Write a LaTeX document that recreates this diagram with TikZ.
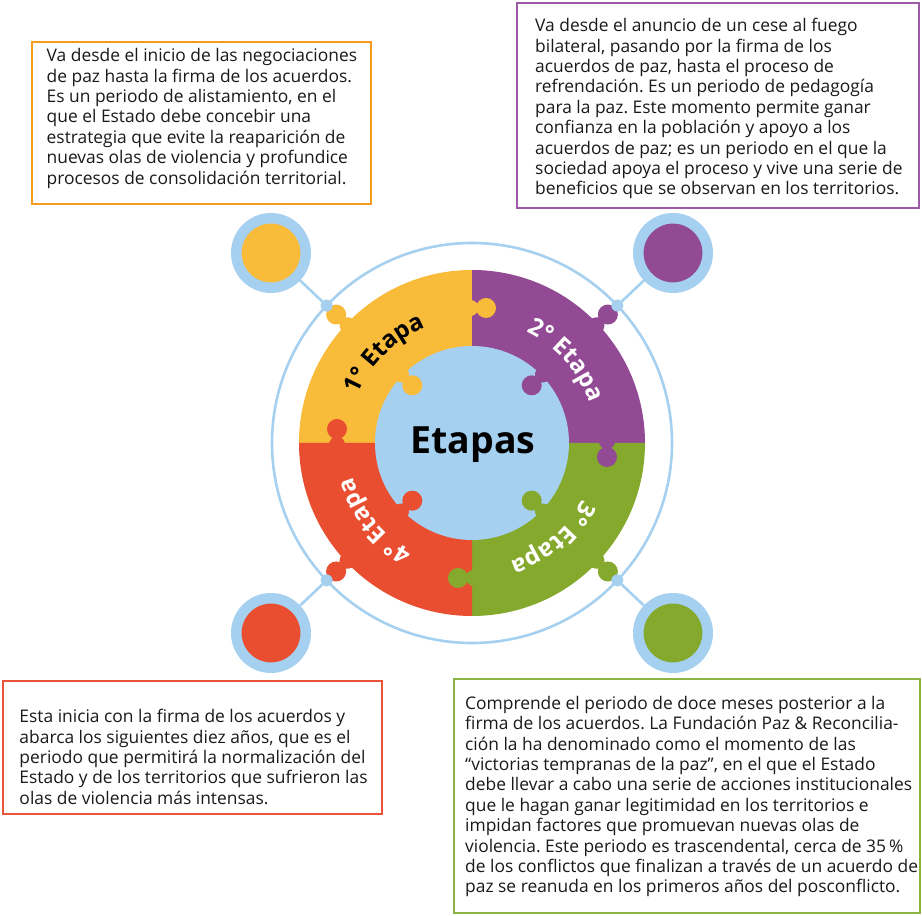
\documentclass[tikz,border=0pt]{standalone}
\usepackage{fontspec}
\setmainfont{Open Sans}
\usetikzlibrary{calc,decorations.text}
\definecolor{cyel}{HTML}{F8BB3A}
\definecolor{cpur}{HTML}{924A94}
\definecolor{cgrn}{HTML}{84A92C}
\definecolor{cred}{HTML}{E94E31}
\definecolor{clblue}{HTML}{A6D0EF}
\definecolor{borange}{HTML}{F59B1F}
\definecolor{bpurple}{HTML}{9C5AA7}
\definecolor{bred}{HTML}{E8553B}
\definecolor{bgreen}{HTML}{8DB443}
\definecolor{ctext}{HTML}{1A1A1A}
\newcommand\boxpar[1]{\parbox[t]{600pt}{\raggedright\frenchspacing\fontsize{17.4}{20.4}\selectfont #1}}
\newcommand\lblfont{\fontsize{24}{24}\selectfont\bfseries}
\newcommand\puzknob[4]{\begin{scope}[shift={(C)},rotate=#2,shift={(#3)},rotate=#4]
\fill[#1] (-1,-8) -- (0,-8) .. controls (3,-7.5) and (4,-5) .. (5,-4.5) -- (8,-4.5) -- (8,4.5) -- (5,4.5) .. controls (4,5) and (3,7.5) .. (0,8) -- (-1,8) -- cycle (14,0) circle[radius=10];
\end{scope}}
\tikzset{
  boxframe/.style={line width=2},
  boxtext/.style={anchor=base west, inner sep=0, text=ctext},
  corner/.style={circle, draw=clblue, line width=10.5, minimum size=69.5, inner sep=0},
  ringdot/.style={circle, fill=clblue, minimum size=12, inner sep=0},
  conn/.style={draw=clblue, line width=2.6},
}
\begin{document}
\begin{tikzpicture}[x=1pt,y=1pt]
\useasboundingbox (0,0) rectangle (922,916);
\fill[white] (0,0) rectangle (922,916);
\coordinate (C) at (472,473);

% text boxes
\draw[boxframe, borange] (32,712) rectangle (371,874);
\draw[boxframe, bpurple] (517,708) rectangle (919,913);
\draw[boxframe, bred] (3,102) rectangle (382,235);
\draw[boxframe, bgreen] (454,3) rectangle (920,237);

\node[boxtext] (t1) at (46.5,854.3) {\boxpar{Va desde el inicio de las negociaciones\\
de paz hasta la firma de los acuerdos.\\
Es un periodo de alistamiento, en el\\
que el Estado debe concebir una\\
estrategia que evite la reaparición de\\
nuevas olas de violencia y profundice\\
procesos de consolidación territorial.}};

\node[boxtext] (t2) at (535,884.3) {\boxpar{Va desde el anuncio de un cese al fuego\\
bilateral, pasando por la firma de los\\
acuerdos de paz, hasta el proceso de\\
refrendación. Es un periodo de pedagogía\\
para la paz. Este momento permite ganar\\
confianza en la población y apoyo a los\\
acuerdos de paz; es un periodo en el que la\\
sociedad apoya el proceso y vive una serie de\\
beneficios que se observan en los territorios.}};

\node[boxtext] (t4) at (19.3,193.3) {\boxpar{Esta inicia con la firma de los acuerdos y\\
abarca los siguientes diez años, que es el\\
periodo que permitirá la normalización del\\
Estado y de los territorios que sufrieron las\\
olas de violencia más intensas.}};

\node[boxtext] (t3) at (465,206.7) {\boxpar{Comprende el periodo de doce meses posterior a la\\
firma de los acuerdos. La Fundación Paz \& Reconcilia-\\
ción la ha denominado como el momento de las\\
“victorias tempranas de la paz”, en el que el Estado\\
debe llevar a cabo una serie de acciones institucionales\\
que le hagan ganar legitimidad en los territorios e\\
impidan factores que promuevan nuevas olas de\\
violencia. Este periodo es trascendental, cerca de 35\,\%\\
de los conflictos que finalizan a través de un acuerdo de\\
paz se reanuda en los primeros años del posconflicto.}};

% puzzle quadrants
\fill[cyel] (C) -- ++(90:173) arc[start angle=90,end angle=180,radius=173] -- cycle;
\fill[cpur] (C) -- ++(0:173) arc[start angle=0,end angle=90,radius=173] -- cycle;
\fill[cgrn] (C) -- ++(270:173) arc[start angle=270,end angle=360,radius=173] -- cycle;
\fill[cred] (C) -- ++(180:173) arc[start angle=180,end angle=270,radius=173] -- cycle;

% side tabs
\puzknob{cyel}{0}{0,135}{0}
\puzknob{cpur}{0}{135,0}{-90}
\puzknob{cgrn}{0}{0,-135}{180}
\puzknob{cred}{0}{-135,0}{90}

% hub
\node[circle, fill=clblue, minimum size=194, inner sep=0] (hub) at (C) {};

% inner tabs
\puzknob{cyel}{136}{97,0}{180}
\puzknob{cpur}{44}{97,0}{180}
\puzknob{cgrn}{-44}{97,0}{180}
\puzknob{cred}{224}{97,0}{180}

% outer tabs
\puzknob{cyel}{136.6}{173,0}{0}
\puzknob{cpur}{43.4}{173,0}{0}
\puzknob{cgrn}{-43.4}{173,0}{0}
\puzknob{cred}{223.4}{173,0}{0}

\node[anchor=base, inner sep=0, text=black, font=\fontsize{37.5}{40}\selectfont\bfseries] (ttl) at (473,462.7) {Etapas};

% curved labels
\path[decorate, decoration={text along path, text={|\lblfont|1° Etapa}, text align=center, text color=black}]
  ($(C)+(174.5:124)$) arc[start angle=174.5,end angle=94.5,radius=124];
\path[decorate, decoration={text along path, text={|\lblfont|2° Etapa}, text align=center, text color=white}]
  ($(C)+(81.5:124)$) arc[start angle=81.5,end angle=1.5,radius=124];
\path[decorate, decoration={text along path, text={|\lblfont|3° Etapa}, text align=center, text color=white}]
  ($(C)+(-9.5:124)$) arc[start angle=-9.5,end angle=-89.5,radius=124];
\path[decorate, decoration={text along path, text={|\lblfont|4° Etapa}, text align=center, text color=white}]
  ($(C)+(258.5:124)$) arc[start angle=258.5,end angle=178.5,radius=124];

% outer ring
\draw[clblue, line width=2.6] (C) circle[radius=200];

% corner circles
\node[corner, fill=cyel] (k1) at (271,663) {};
\node[corner, fill=cpur] (k2) at (673,663) {};
\node[corner, fill=cgrn] (k3) at (673,283) {};
\node[corner, fill=cred] (k4) at (271,283) {};

% dots on ring
\node[ringdot] (d1) at ($(C)!200pt!(k1)$) {};
\node[ringdot] (d2) at ($(C)!200pt!(k2)$) {};
\node[ringdot] (d3) at ($(C)!200pt!(k3)$) {};
\node[ringdot] (d4) at ($(C)!200pt!(k4)$) {};

\draw[conn] (d1) -- (k1);
\draw[conn] (d2) -- (k2);
\draw[conn] (d3) -- (k3);
\draw[conn] (d4) -- (k4);
\end{tikzpicture}
\end{document}
